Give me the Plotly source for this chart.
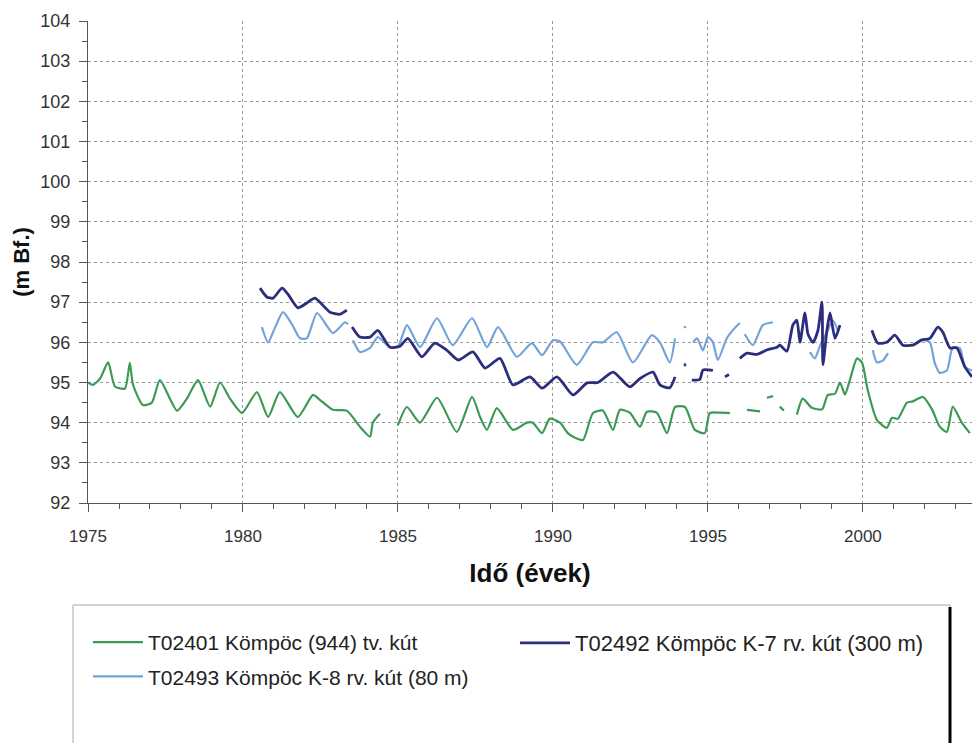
import plotly.graph_objects as go

N = None
# T02401 Kömpöc (944) tv. kút
green_x = [1975.00, 1975.16, 1975.39, 1975.65, 1975.87, 1976.19, 1976.35, 1976.45, 1976.77, 1977.06,
           1977.32, 1977.87, 1978.19, 1978.55, 1978.94, 1979.26, 1979.58, 1979.97, 1980.45, 1980.81,
           1981.19, 1981.77, 1982.26, 1982.48, 1982.90, 1983.35, 1983.77, 1984.10, 1984.19, 1984.42, 1984.6,
           1985.00, 1985.29, 1985.71, 1986.26, 1986.90, 1987.39, 1987.65, 1987.87, 1988.19, 1988.71,
           1989.16, 1989.35, 1989.65, 1989.90, 1990.23, 1990.48, 1990.65, 1990.97, 1991.29, 1991.61,
           1991.94, 1992.16, 1992.48, 1992.81, 1993.03, 1993.35, 1993.68, 1993.94, 1994.26, 1994.58,
           1994.90, 1995.06, 1995.39, 1995.71, 1995.9,
           1996.26, 1996.68, 1996.8,
           1996.90, 1997.10, 1997.2,
           1997.32, 1997.45, 1997.6,
           1997.87, 1998.06, 1998.35, 1998.68, 1998.87, 1999.10, 1999.26, 1999.42, 1999.58, 1999.81,
           1999.97, 2000.16, 2000.45, 2000.77, 2000.94, 2001.13, 2001.42, 2001.61, 2001.94, 2002.23,
           2002.48, 2002.71, 2002.90, 2003.19, 2003.45]
green_y = [95.00, 94.94, 95.10, 95.50, 94.90, 94.85, 95.49, 94.95, 94.44, 94.50,
           95.06, 94.30, 94.60, 95.06, 94.40, 95.00, 94.60, 94.24, 94.76, 94.14,
           94.76, 94.14, 94.69, 94.57, 94.32, 94.30, 93.90, 93.65, 94.00, 94.22, N,
           93.94, 94.39, 94.00, 94.62, 93.77, 94.64, 94.14, 93.82, 94.36, 93.82,
           94.00, 94.00, 93.74, 94.10, 94.00, 93.74, 93.65, 93.57, 94.24, 94.30,
           93.82, 94.32, 94.25, 93.90, 94.27, 94.25, 93.74, 94.39, 94.39, 93.82,
           93.74, 94.24, 94.25, 94.24, N,
           94.32, 94.28, N,
           94.62, 94.66, N,
           94.40, 94.30, N,
           94.20, 94.60, 94.37, 94.33, 94.69, 94.72, 95.00, 94.70, 95.06, 95.60,
           95.50, 94.80, 94.07, 93.87, 94.12, 94.10, 94.50, 94.53, 94.64, 94.33,
           93.90, 93.77, 94.40, 94.00, 93.74]

# T02492 Kömpöc K-7 rv. kút (300 m)
navy_x = [1980.55, 1980.77, 1980.97, 1981.26, 1981.45, 1981.77, 1982.06, 1982.32, 1982.81, 1983.13,
          1983.35, 1983.45,
          1983.52, 1983.77, 1984.10, 1984.35, 1984.74, 1985.06, 1985.32, 1985.77, 1986.19, 1986.58,
          1986.94, 1987.42, 1987.81, 1988.29, 1988.71, 1989.26, 1989.65, 1990.13, 1990.65, 1991.10,
          1991.45, 1991.94, 1992.48, 1992.81, 1993.23, 1993.45, 1993.77, 1993.94, 1994.05,
          1994.22, 1994.30, 1994.38,
          1994.48, 1994.74, 1994.84, 1995.16, 1995.3,
          1995.55, 1995.68, 1995.8,
          1996.03, 1996.26, 1996.58, 1996.90, 1997.23, 1997.32, 1997.55, 1997.74, 1997.87, 1997.97,
          1998.13, 1998.23, 1998.39, 1998.55, 1998.68, 1998.71, 1998.84, 1998.94, 1999.10, 1999.26, 1999.5,
          2000.29, 2000.48, 2000.77, 2001.03, 2001.29, 2001.61, 2001.90, 2002.16, 2002.42, 2002.58,
          2002.81, 2003.03, 2003.29, 2003.52]
navy_y = [97.35, 97.13, 97.10, 97.35, 97.20, 96.86, 96.98, 97.10, 96.75, 96.70,
          96.80, N,
          96.38, 96.13, 96.13, 96.30, 95.88, 95.90, 96.10, 95.64, 95.98, 95.80,
          95.56, 95.76, 95.36, 95.60, 94.94, 95.14, 94.86, 95.14, 94.69, 94.99,
          95.00, 95.26, 94.89, 95.10, 95.26, 94.94, 94.87, 95.14, N,
          95.44, 95.44, N,
          95.06, 95.08, 95.31, 95.30, N,
          95.14, 95.20, N,
          95.60, 95.73, 95.70, 95.81, 95.88, 95.93, 95.78, 96.43, 96.55, 96.00,
          96.73, 96.20, 96.00, 96.30, 97.00, 95.44, 96.30, 96.73, 96.10, 96.43, N,
          96.30, 95.98, 96.00, 96.18, 95.93, 95.93, 96.06, 96.10, 96.38, 96.25,
          95.86, 95.86, 95.39, 95.14]

# T02493 Kömpöc K-8 rv. kút (80 m)
blue_x = [1980.61, 1980.81, 1981.03, 1981.29, 1981.58, 1981.84, 1982.06, 1982.39, 1982.90, 1983.29,
          1983.39, 1983.47,
          1983.55, 1983.77, 1984.10, 1984.35, 1984.74, 1985.00, 1985.29, 1985.71, 1986.26, 1986.77,
          1987.39, 1987.87, 1988.23, 1988.84, 1989.32, 1989.65, 1990.00, 1990.23, 1990.77, 1991.29,
          1991.61, 1992.06, 1992.58, 1993.19, 1993.45, 1993.77, 1993.94, 1994.05,
          1994.22, 1994.30, 1994.38,
          1994.52, 1994.65, 1994.84, 1995.00, 1995.16, 1995.32, 1995.61, 1995.87, 1996.03, 1996.1,
          1996.19, 1996.45, 1996.77, 1997.10, 1997.2,
          1998.29, 1998.45, 1998.61, 1998.84, 1999.03, 1999.19, 1999.3,
          2000.32, 2000.45, 2000.65, 2000.81, 2001.0,
          2001.94, 2002.16, 2002.32, 2002.48, 2002.71, 2002.90, 2003.13, 2003.29, 2003.52]
blue_y = [96.38, 96.00, 96.36, 96.75, 96.45, 96.10, 96.10, 96.73, 96.23, 96.50,
          96.45, N,
          96.05, 95.76, 95.86, 96.13, 95.88, 95.90, 96.43, 95.88, 96.60, 95.93,
          96.60, 95.88, 96.38, 95.64, 95.98, 95.68, 96.05, 96.02, 95.44, 96.00,
          96.00, 96.25, 95.50, 96.18, 96.00, 95.50, 96.10, N,
          96.38, 96.38, N,
          96.00, 96.10, 95.80, 96.13, 96.00, 95.56, 96.10, 96.36, 96.48, N,
          96.20, 95.93, 96.43, 96.50, N,
          95.76, 95.60, 95.90, 96.25, 96.55, 96.30, N,
          95.80, 95.50, 95.55, 95.73, N,
          96.06, 96.00, 95.48, 95.24, 95.30, 95.88, 95.85, 95.39, 95.30]

names = ["T02401 Kömpöc (944) tv. kút",
         "T02492 Kömpöc K-7 rv. kút (300 m)",
         "T02493 Kömpöc K-8 rv. kút (80 m)"]
colors = ["#3c9a55", "#2d2d7e", "#74a3da"]

fig = go.Figure()
fig.add_trace(go.Scatter(x=green_x, y=green_y, mode="lines", name=names[0],
                         line=dict(color=colors[0], width=2.2, shape="spline", smoothing=0.6),
                         legend="legend", legendgroup="g1"))
fig.add_trace(go.Scatter(x=blue_x, y=blue_y, mode="lines", name=names[2],
                         line=dict(color=colors[2], width=2.2, shape="spline", smoothing=0.6),
                         legend="legend", legendgroup="g3"))
fig.add_trace(go.Scatter(x=navy_x, y=navy_y, mode="lines", name=names[1],
                         line=dict(color=colors[1], width=2.8, shape="spline", smoothing=0.6),
                         legend="legend2", legendgroup="g2"))

W, H = 972, 743
L, R, T, B = 88, 0, 21, 240
pw, ph = W - L - R, H - T - B

def px(x):
    return (x - L) / pw

def py(y):
    return (H - B - y) / ph

fig.update_layout(
    width=W, height=H,
    margin=dict(l=L, r=R, t=T, b=B, pad=0),
    paper_bgcolor="white", plot_bgcolor="white",
    font=dict(family="Arial, Liberation Sans", size=18, color="#333"),
    showlegend=True,
    legend=dict(x=px(88), y=py(622), xanchor="left", yanchor="top",
                bgcolor="rgba(0,0,0,0)", tracegroupgap=4,
                font=dict(size=21, color="#222"), itemwidth=50),
    legend2=dict(x=px(515), y=py(622), xanchor="left", yanchor="top",
                 bgcolor="rgba(0,0,0,0)",
                 font=dict(size=22, color="#222"), itemwidth=50),
    xaxis=dict(range=[1975, 2003.52], dtick=5, tick0=1975,
               showline=True, linecolor="#555", linewidth=1,
               ticks="outside", ticklen=8, tickcolor="#555",
               ticklabelstandoff=10, tickfont=dict(size=17),
               showgrid=True, gridcolor="#999", griddash="dot", gridwidth=1,
               minor=dict(dtick=1, ticks="outside", ticklen=5, tickcolor="#555", showgrid=False),
               zeroline=False,
               title=dict(text="<b>Idő (évek)</b>", font=dict(size=26, color="#111"), standoff=18)),
    yaxis=dict(range=[92, 104], dtick=1,
               showline=True, linecolor="#555", linewidth=1,
               ticks="outside", ticklen=8, tickcolor="#555",
               ticklabelstandoff=5, tickfont=dict(size=18),
               showgrid=True, gridcolor="#999", griddash="dot", gridwidth=1,
               minor=dict(dtick=0.5, ticks="outside", ticklen=5, tickcolor="#555", showgrid=False),
               zeroline=False,
               title=dict(text="<b>(m Bf.)</b>", font=dict(size=22, color="#111"), standoff=4)),
    shapes=[
        dict(type="rect", xref="paper", yref="paper",
             x0=px(73), x1=px(950), y0=py(745), y1=py(605),
             line=dict(color="#aaa", width=1), fillcolor="rgba(0,0,0,0)", layer="below"),
        dict(type="line", xref="paper", yref="paper",
             x0=px(950), x1=px(950), y0=py(745), y1=py(607),
             line=dict(color="#000", width=3)),
    ],
)

fig.write_html("out.html")
